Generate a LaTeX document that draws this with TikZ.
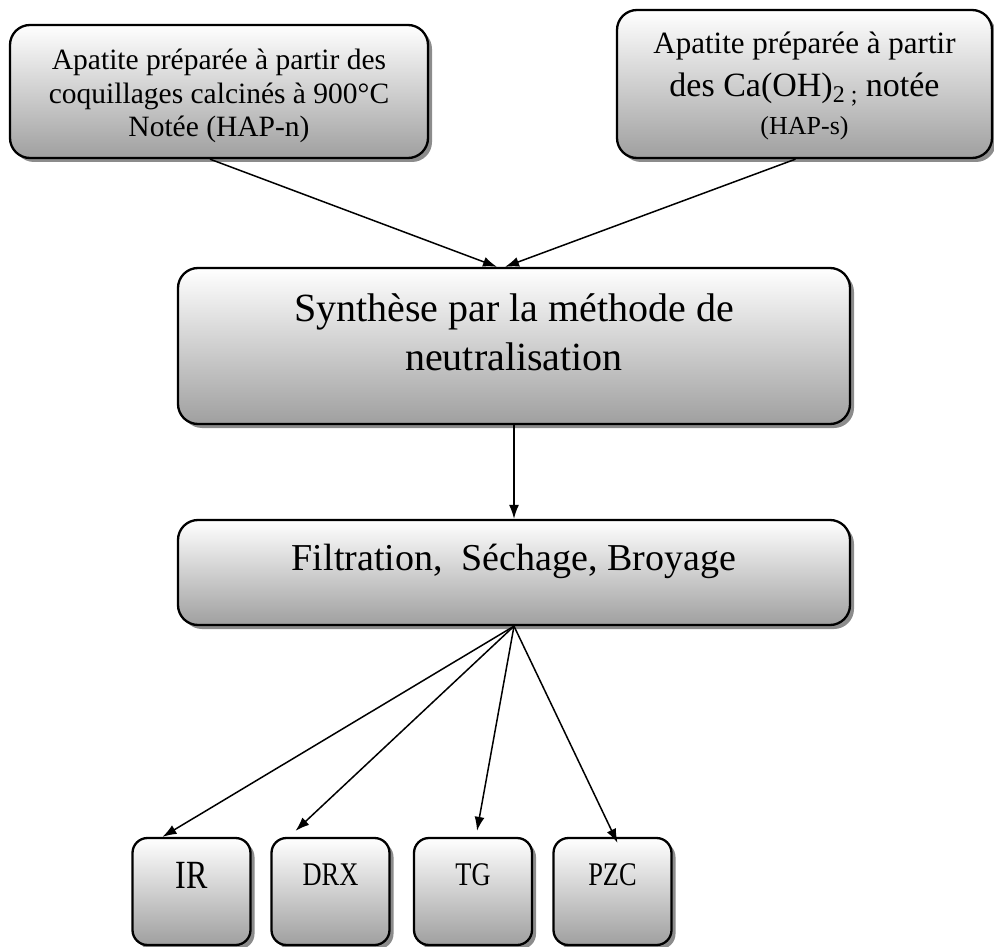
\documentclass[tikz,border=0pt]{standalone}
\usepackage{fontspec}
\setmainfont{Liberation Serif}
\newfontfamily\etroite[FakeStretch=0.8]{Liberation Serif}
\usetikzlibrary{arrows.meta,shadows,positioning}
\tikzset{>={Latex[length=14pt,width=10pt]}}
\tikzset{
  etape/.style={draw=black, line width=2.3pt, rounded corners=20pt,
    top color=white, bottom color=gray!75,
    drop shadow={shadow xshift=4pt,shadow yshift=-4pt,fill=black,opacity=.45},
    align=center, inner sep=0pt},
  analyse/.style={etape, rounded corners=15pt, minimum width=118pt, minimum height=107pt},
  fleche/.style={->, line width=1.5pt}
}

\begin{document}
\begin{tikzpicture}[x=1pt,y=-1pt]
\clip (0,0) rectangle (994,947);
% les deux apatites
\node[etape, minimum width=418pt, minimum height=133pt, text height=97pt,
  font=\fontsize{29.5}{33.5}\selectfont] (hapn) at (219,91.5)
  {Apatite préparée à partir des\\coquillages calcinés à 900°C\\Notée (HAP-n)};
\node[etape, minimum width=375pt, minimum height=148pt, text height=106pt,
  font=\fontsize{31}{43}\selectfont] (haps) at (804.5,84)
  {Apatite préparée à partir\\{\fontsize{34}{43}\selectfont des Ca(OH)\raisebox{-6pt}{\fontsize{24}{24}\selectfont 2 ;} notée}\\[-5pt]{\fontsize{26}{30}\selectfont (HAP-s)}};
% synthese puis traitement
\node[etape, minimum width=672pt, minimum height=156pt, text depth=27pt,
  font=\fontsize{40}{49}\selectfont] (synth) at (514,346)
  {Synthèse par la méthode de\\neutralisation};
\node[etape, minimum width=672pt, minimum height=105pt, text depth=30pt,
  font=\fontsize{38}{45}\selectfont] (trait) at (514,572.5)
  {Filtration,~ Séchage, Broyage};
% caracterisations
\node[analyse, text depth=31.5pt, font=\etroite\fontsize{40}{44}\selectfont] (ir) at (191.5,891.5) {IR};
\node[analyse, text depth=33pt, font=\etroite\fontsize{33}{36}\selectfont] (drx) at (330.5,891.5) {DRX};
\node[analyse, text depth=33pt, font=\etroite\fontsize{33}{36}\selectfont] (tg) at (473,891.5) {TG};
\node[analyse, text depth=33pt, font=\etroite\fontsize{33}{36}\selectfont] (pzc) at (612.5,891.5) {PZC};

\draw[fleche] ([xshift=-9pt]hapn.south) -- ([xshift=-17pt]synth.north);
\draw[fleche] ([xshift=-9pt]haps.south) -- ([xshift=-9pt]synth.north);
\draw[fleche] (synth.south) -- (trait.north);
\draw[fleche] (trait.south) -- ([xshift=-29pt]ir.north);
\draw[fleche] (trait.south) -- ([xshift=-35pt,yshift=6pt]drx.north);
\draw[fleche] (trait.south) -- ([xshift=4pt,yshift=6pt]tg.north);
\draw[fleche] (trait.south) -- ([xshift=5pt,yshift=-6pt]pzc.north);
\end{tikzpicture}
\end{document}
